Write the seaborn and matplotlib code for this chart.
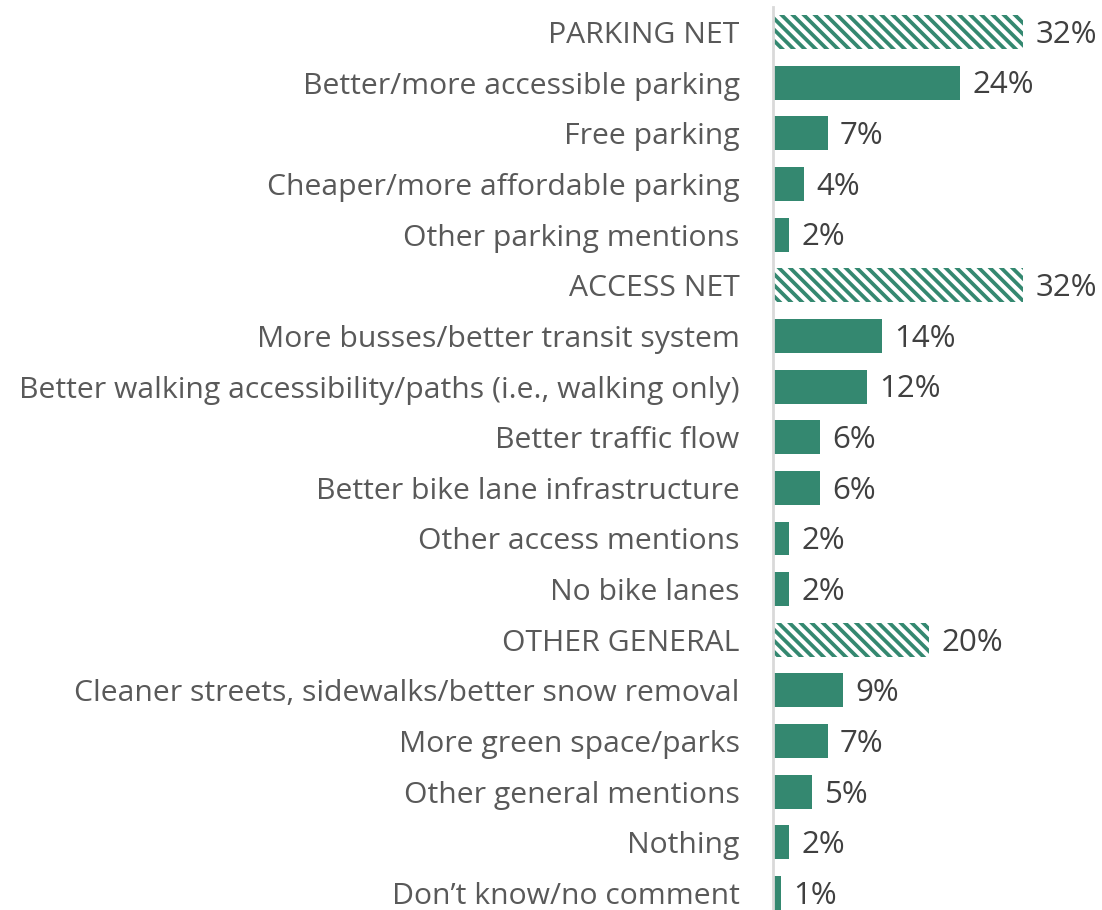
import matplotlib
matplotlib.use("Agg")
import matplotlib.pyplot as plt
import seaborn as sns
import pandas as pd

categories = [
    "PARKING NET",
    "Better/more accessible parking",
    "Free parking",
    "Cheaper/more affordable parking",
    "Other parking mentions",
    "ACCESS NET",
    "More busses/better transit system",
    "Better walking accessibility/paths (i.e., walking only)",
    "Better traffic flow",
    "Better bike lane infrastructure",
    "Other access mentions",
    "No bike lanes",
    "OTHER GENERAL",
    "Cleaner streets, sidewalks/better snow removal",
    "More green space/parks",
    "Other general mentions",
    "Nothing",
    "Don\u2019t know/no comment",
]
values = [32, 24, 7, 4, 2, 32, 14, 12, 6, 6, 2, 2, 20, 9, 7, 5, 2, 1]
net_rows = ["PARKING NET", "ACCESS NET", "OTHER GENERAL"]

GREEN = "#348870"
LABEL_GREY = "#595959"
VALUE_GREY = "#404040"

sns.set_theme(style="white")
plt.rcParams["font.family"] = ["Open Sans", "DejaVu Sans"]
plt.rcParams["hatch.linewidth"] = 2.7

df = pd.DataFrame({"category": categories, "value": values})

W, H = 1102, 910
fig = plt.figure(figsize=(W / 100, H / 100), dpi=100)
# rows are ~50.65 px apart, first row centred at y=32 px from the top
row = 50.65
top = 32 - row / 2
bottom = top + row * len(categories)
ax = fig.add_axes([773 / W, (H - bottom) / H, 312 / W, (bottom - top) / H])

sns.barplot(data=df, x="value", y="category", orient="h", color=GREEN,
            saturation=1, width=0.67, ax=ax)

for patch, cat in zip(ax.patches, categories):
    patch.set_linewidth(0)
    if cat in net_rows:
        patch.set_facecolor("white")
        patch.set_edgecolor(GREEN)
        patch.set_hatch("\\\\\\")

ax.set_xlim(0, 40)
ax.set_ylim(len(categories) - 0.5, -0.5)
ax.set_xlabel("")
ax.set_ylabel("")
ax.set_xticks([])
for s in ["top", "right", "bottom"]:
    ax.spines[s].set_visible(False)
ax.spines["left"].set_color("#d9d9d9")
ax.spines["left"].set_linewidth(2)

ax.tick_params(axis="y", length=0, pad=24, labelsize=21.7, labelcolor=LABEL_GREY)

for i, v in enumerate(values):
    ax.annotate(f"{v}%", xy=(v, i), xytext=(9, -2), textcoords="offset points",
                va="center", ha="left", fontsize=22.5, color=VALUE_GREY)

fig.savefig("out.png", dpi=100)
